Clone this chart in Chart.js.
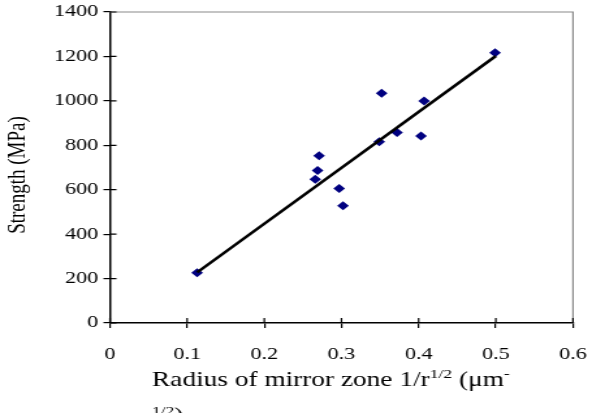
<!DOCTYPE html>
<html>
<head>
<meta charset="utf-8">
<script src="https://cdn.jsdelivr.net/npm/chart.js@4.4.1/dist/chart.umd.min.js"></script>
<style>
  html, body { margin: 0; padding: 0; background: #fff; }
  #wrap { width: 592px; height: 419px; overflow: hidden; }
  #chart { transform: scaleX(1.3011); transform-origin: 0 0; }
</style>
</head>
<body>
<div id="wrap"><canvas id="chart" width="455" height="419"></canvas></div>
<script>
// ===== Dados =====
const radiusX   = [0.113, 0.266, 0.269, 0.271, 0.297, 0.302, 0.349, 0.352, 0.372, 0.403, 0.407, 0.499];
const strengthY = [226, 647, 686, 753, 605, 528, 816, 1034, 857, 842, 999, 1217];
const trendX = [0.113, 0.5];
const trendY = [228, 1202];
const xTicks = [0, 0.1, 0.2, 0.3, 0.4, 0.5, 0.6];
const yTicks = [0, 200, 400, 600, 800, 1000, 1200, 1400];
const yTitle = "Strength (MPa)";

const serif = "'Liberation Serif', 'Times New Roman', serif";

// ===== Enfeites: moldura, ticks internos, titulos =====
const decor = {
  id: "decor",
  afterDraw(chart) {
    const { ctx, chartArea: a, scales: { x, y } } = chart;
    ctx.save();

    // moldura cinza em cima e à direita
    ctx.strokeStyle = "#8a8a8a";
    ctx.lineWidth = 1.2;
    ctx.beginPath();
    ctx.moveTo(a.left, a.top);
    ctx.lineTo(a.right, a.top);
    ctx.lineTo(a.right, a.bottom);
    ctx.stroke();

    // parte interna dos ticks
    ctx.strokeStyle = "#000";
    ctx.lineWidth = 1.2;
    ctx.beginPath();
    xTicks.forEach(v => {
      const px = x.getPixelForValue(v);
      ctx.moveTo(px, a.bottom);
      ctx.lineTo(px, a.bottom - 5);
    });
    yTicks.forEach(v => {
      const py = y.getPixelForValue(v);
      ctx.moveTo(a.left, py);
      ctx.lineTo(a.left + 5, py);
    });
    ctx.stroke();

    // titulo do eixo Y
    ctx.fillStyle = "#000";
    ctx.save();
    ctx.translate(13.8, 175);
    ctx.rotate(-Math.PI / 2);
    ctx.font = "19px " + serif;
    ctx.textAlign = "center";
    ctx.textBaseline = "middle";
    ctx.fillText(yTitle, 0, 0);
    ctx.restore();

    // titulo do eixo X (caixa branca por cima dos rótulos)
    ctx.save();
    ctx.beginPath();
    ctx.rect(113, 359.5, 283, 53.5);
    ctx.clip();
    ctx.fillStyle = "#fff";
    ctx.fillRect(113, 359.5, 283, 53.5);
    ctx.fillStyle = "#000";
    ctx.textAlign = "left";
    ctx.textBaseline = "alphabetic";
    const big = "21px " + serif, small = "13.5px " + serif;
    let cx = 116.8;
    const base1 = 386;
    const parts = [
      ["Radius of mirror zone 1/r", big, 0],
      ["1/2", small, -8],
      [" (\u03bcm", big, 0],
      ["-", small, -8]
    ];
    parts.forEach(([t, f, dy]) => {
      ctx.font = f;
      ctx.fillText(t, cx, base1 + dy);
      cx += ctx.measureText(t).width;
    });
    const base2 = 422;
    cx = 116.8;
    [["1/2", small, -7], [")", big, 0]].forEach(([t, f, dy]) => {
      ctx.font = f;
      ctx.fillText(t, cx, base2 + dy);
      cx += ctx.measureText(t).width;
    });
    ctx.restore();

    ctx.restore();
  }
};

// ===== Gráfico =====
const ctx = document.getElementById("chart").getContext("2d");
new Chart(ctx, {
  type: "scatter",
  data: {
    datasets: [
      {
        type: "line",
        data: trendX.map((v, i) => ({ x: v, y: trendY[i] })),
        borderColor: "#000",
        borderWidth: 2.6,
        pointRadius: 0,
        fill: false,
        tension: 0,
        order: 0
      },
      {
        type: "scatter",
        data: radiusX.map((v, i) => ({ x: v, y: strengthY[i] })),
        pointStyle: "rectRot",
        pointRadius: 4.5,
        backgroundColor: "#000080",
        borderColor: "#000080",
        borderWidth: 0,
        order: 1
      }
    ]
  },
  options: {
    responsive: false,
    devicePixelRatio: 1,
    animation: false,
    layout: { padding: { top: 12, right: 14.6, left: 0, bottom: 0 } },
    plugins: { legend: { display: false }, tooltip: { enabled: false } },
    scales: {
      x: {
        type: "linear",
        min: 0, max: 0.6,
        afterBuildTicks: s => { s.ticks = xTicks.map(v => ({ value: v })); },
        afterFit: s => { s.height = 96; s.paddingLeft = 0; s.paddingRight = 0; },
        ticks: { font: { family: serif, size: 17 }, color: "#000", padding: 16, maxRotation: 0, autoSkip: false, callback: v => String(v) },
        grid: { drawOnChartArea: false, drawTicks: true, tickLength: 5, color: "#000", lineWidth: 1.2 },
        border: { color: "#000", width: 1.5 }
      },
      y: {
        type: "linear",
        min: 0, max: 1400,
        afterBuildTicks: s => { s.ticks = yTicks.map(v => ({ value: v })); },
        afterFit: s => { s.width = 84.5; s.paddingTop = 0; s.paddingBottom = 0; },
        ticks: { font: { family: serif, size: 17 }, color: "#000", padding: 4, autoSkip: false, callback: v => String(v) },
        grid: { drawOnChartArea: false, drawTicks: true, tickLength: 5, color: "#000", lineWidth: 1.2 },
        border: { color: "#000", width: 1.5 }
      }
    }
  },
  plugins: [decor]
});
</script>
</body>
</html>
